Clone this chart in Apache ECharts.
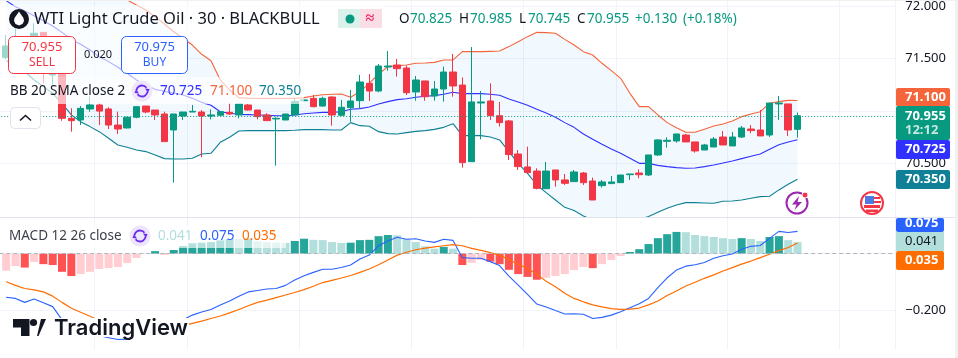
<!DOCTYPE html>
<html><head><meta charset="utf-8">
<style>html,body{margin:0;padding:0;background:#fff}#c{width:958px;height:358px}</style>
<script src="https://cdn.jsdelivr.net/npm/echarts@6/dist/echarts.min.js"></script>
</head><body><div id="c"></div>
<script>
const opens=[71.511,71.597,71.581,71.660,71.749,71.343,71.422,70.930,70.914,71.019,71.057,71.019,70.866,70.838,70.940,71.047,71.009,70.971,70.819,70.952,
70.990,70.990,70.952,70.959,70.987,70.962,71.057,71.009,70.962,70.924,70.914,70.962,71.098,71.120,71.047,71.133,70.959,71.032,71.098,71.263,
71.190,71.419,71.438,71.409,71.181,71.286,71.143,71.209,71.371,71.247,70.517,71.076,71.095,70.955,70.905,70.590,70.467,70.428,70.260,70.438,
70.343,70.327,70.409,70.333,70.289,70.308,70.317,70.393,70.409,70.390,70.581,70.711,70.714,70.771,70.705,70.628,70.657,70.752,70.667,70.752,
70.828,70.819,70.771,71.067,71.067,70.825];
const closes=[71.619,71.676,71.660,71.740,71.422,71.352,70.930,70.908,71.025,71.057,70.999,70.866,70.828,70.940,71.041,70.990,70.962,70.708,70.971,70.990,
70.997,70.952,70.962,70.993,70.971,71.067,71.009,70.946,70.908,70.930,70.971,71.089,71.105,71.041,71.120,70.962,71.035,71.095,71.276,71.190,
71.428,71.428,71.403,71.174,71.295,71.136,71.209,71.371,71.238,70.508,71.086,71.086,70.955,70.889,70.584,70.470,70.413,70.263,70.428,70.343,
70.311,70.419,70.317,70.152,70.324,70.324,70.390,70.400,70.393,70.581,70.724,70.721,70.781,70.705,70.619,70.676,70.733,70.676,70.752,70.838,
70.813,70.762,71.076,71.076,70.819,70.955];
const lows=[71.492,71.581,71.549,71.613,71.263,71.254,70.907,70.803,70.866,70.993,70.866,70.828,70.781,70.835,70.930,70.978,70.914,70.708,70.317,70.914,
70.990,70.559,70.920,70.952,70.962,70.930,71.003,70.920,70.908,70.479,70.914,70.962,71.089,71.035,71.041,70.860,70.952,70.898,71.025,71.095,
71.178,71.384,71.327,71.152,71.098,71.098,71.098,71.089,71.136,70.460,70.517,70.730,70.914,70.851,70.533,70.438,70.406,70.254,70.260,70.279,
70.295,70.324,70.295,70.152,70.270,70.308,70.314,70.343,70.359,70.381,70.571,70.651,70.698,70.705,70.603,70.628,70.657,70.676,70.667,70.743,
70.787,70.762,70.752,70.914,70.762,70.745];
const highs=[71.724,71.787,71.692,71.835,71.749,71.422,71.422,71.025,71.047,71.136,71.073,71.035,70.993,70.946,71.047,71.047,71.009,70.993,70.971,70.990,
71.057,71.009,71.016,70.993,71.073,71.067,71.067,71.009,70.978,70.940,70.971,71.120,71.120,71.152,71.136,71.140,71.105,71.200,71.343,71.352,
71.447,71.571,71.495,71.432,71.333,71.286,71.286,71.422,71.543,71.320,71.609,71.190,71.263,71.086,70.914,70.628,70.660,70.454,70.514,70.438,
70.400,70.438,70.419,70.365,70.343,70.381,70.390,70.400,70.444,70.581,70.730,70.749,70.781,70.781,70.705,70.686,70.752,70.809,70.800,70.857,
70.866,71.009,71.076,71.143,71.067,70.985];
const bbBasis=[72.051,71.993,71.952,71.908,71.860,71.809,71.749,71.682,71.635,71.581,71.517,71.470,71.416,71.359,71.295,71.247,71.206,71.187,71.171,71.152,
71.120,71.082,71.054,70.993,70.978,70.968,70.965,70.962,70.959,70.955,70.955,70.962,70.974,70.981,70.987,70.987,70.993,71.016,71.022,71.038,
71.067,71.089,71.108,71.117,71.130,71.140,71.146,71.159,71.178,71.165,71.165,71.165,71.159,71.149,71.114,71.086,71.054,71.016,70.981,70.940,
70.889,70.844,70.781,70.730,70.682,70.638,70.597,70.549,70.501,70.501,70.482,70.470,70.460,70.454,70.457,70.470,70.486,70.505,70.524,70.546,
70.568,70.590,70.635,70.679,70.705,70.725];
const bbUpper=[72.406,72.374,72.359,72.343,72.327,72.311,72.279,72.247,72.216,72.184,72.152,72.120,72.089,72.057,72.009,71.962,71.898,71.828,71.755,71.692,
71.628,71.540,71.479,71.295,71.200,71.127,71.120,71.120,71.120,71.120,71.120,71.120,71.127,71.143,71.155,71.159,71.162,71.130,71.184,71.263,
71.352,71.422,71.432,71.438,71.454,71.457,71.463,71.486,71.486,71.565,71.565,71.565,71.568,71.571,71.613,71.660,71.708,71.749,71.746,71.740,
71.682,71.628,71.565,71.533,71.454,71.384,71.311,71.168,71.041,71.041,70.962,70.889,70.841,70.797,70.797,70.825,70.857,70.876,70.905,70.946,
70.971,70.993,71.073,71.089,71.101,71.100];
const bbLower=[71.479,71.438,71.374,71.295,71.232,71.168,71.073,70.962,70.898,70.851,70.803,70.740,70.676,70.654,70.628,70.613,70.581,70.546,70.543,70.543,
70.549,70.590,70.597,70.701,70.749,70.809,70.813,70.813,70.813,70.813,70.813,70.816,70.822,70.822,70.822,70.819,70.819,70.889,70.860,70.854,
70.803,70.784,70.781,70.794,70.806,70.813,70.825,70.844,70.879,70.765,70.765,70.765,70.752,70.724,70.613,70.501,70.406,70.295,70.222,70.152,
70.082,70.051,69.999,69.962,69.936,69.924,69.930,69.946,69.968,69.994,70.035,70.073,70.105,70.127,70.127,70.124,70.121,70.140,70.143,70.152,
70.168,70.184,70.187,70.248,70.302,70.350];
const macdHist=[-0.060,-0.044,-0.049,-0.029,-0.037,-0.040,-0.064,-0.079,-0.072,-0.064,-0.054,-0.051,-0.047,-0.033,-0.015,-0.001,0.009,-0.002,0.013,0.027,
0.037,0.039,0.041,0.047,0.052,0.052,0.053,0.044,0.041,0.039,0.038,0.045,0.053,0.049,0.048,0.041,0.038,0.039,0.048,0.049,
0.062,0.066,0.065,0.052,0.041,0.026,0.018,0.024,0.018,-0.040,-0.032,-0.022,-0.028,-0.037,-0.057,-0.072,-0.082,-0.092,-0.085,-0.079,
-0.072,-0.058,-0.047,-0.051,-0.037,-0.022,-0.008,0.006,0.016,0.034,0.055,0.069,0.077,0.076,0.066,0.062,0.059,0.055,0.052,0.055,
0.052,0.045,0.059,0.062,0.048,0.041];
const macdLine=[-0.154,-0.158,-0.172,-0.160,-0.173,-0.187,-0.234,-0.258,-0.270,-0.282,-0.290,-0.297,-0.303,-0.302,-0.287,-0.278,-0.270,-0.258,-0.246,-0.233,
-0.217,-0.206,-0.197,-0.181,-0.167,-0.150,-0.135,-0.130,-0.125,-0.123,-0.112,-0.093,-0.078,-0.066,-0.055,-0.055,-0.049,-0.040,-0.019,-0.005,
0.028,0.045,0.058,0.051,0.053,0.045,0.040,0.051,0.047,-0.014,-0.016,-0.016,-0.028,-0.042,-0.079,-0.111,-0.144,-0.178,-0.188,-0.201,
-0.213,-0.212,-0.214,-0.229,-0.225,-0.217,-0.205,-0.191,-0.177,-0.158,-0.120,-0.085,-0.058,-0.044,-0.039,-0.031,-0.016,-0.007,-0.001,0.016,
0.026,0.029,0.054,0.079,0.075,0.079];
const signalLine=[-0.099,-0.112,-0.123,-0.128,-0.135,-0.150,-0.172,-0.193,-0.207,-0.221,-0.236,-0.244,-0.252,-0.259,-0.266,-0.270,-0.269,-0.266,-0.264,-0.254,
-0.246,-0.238,-0.229,-0.220,-0.209,-0.197,-0.184,-0.172,-0.164,-0.155,-0.146,-0.137,-0.127,-0.115,-0.102,-0.094,-0.086,-0.077,-0.066,-0.054,
-0.039,-0.022,-0.005,0.005,0.014,0.020,0.024,0.028,0.032,0.028,0.019,0.012,0.004,-0.005,-0.021,-0.037,-0.052,-0.073,-0.097,-0.117,
-0.140,-0.158,-0.170,-0.181,-0.188,-0.194,-0.197,-0.196,-0.192,-0.181,-0.167,-0.148,-0.132,-0.114,-0.101,-0.087,-0.075,-0.061,-0.049,-0.037,
-0.026,-0.014,-0.002,0.011,0.022,0.038];
const priceTicks=[70.5,71,71.5,72];
const macdTicks=[-0.2,0];
const gridCandles=[10,20,32,44,56,66,78,90];

const FONT='"Noto Sans"';
const N=97;            // one leading blank bar + 86 bars + right-hand margin
const cats=Array.from({length:N},(_,i)=>String(i));
const pad=a=>[null,...a,...Array(N-1-a.length).fill(null)];
const GREEN='#089981',RED='#f23645',BLUE='#2962ff',GRID='#f0f3fa';
const candle=opens.map((o,i)=>[o,closes[i],lows[i],highs[i]]);
const bandBase=bbLower, bandDiff=bbUpper.map((u,i)=>u-bbLower[i]);
const histColor=(i)=>{const v=macdHist[i],p=i?macdHist[i-1]:null;
  if(v>=0) return (p!==null&&v>p)?'#26a69a':'#b2dfdb';
  return (p!==null&&v<p)?'#ff5252':'#ffcdd2';};
const hist=macdHist.map((v,i)=>({value:v,itemStyle:{color:histColor(i)}}));
const line=(name,data,color,width,x)=>({name,type:'line',data:pad(data),xAxisIndex:x||0,yAxisIndex:x||0,
  symbol:'none',showSymbol:false,silent:true,lineStyle:{color,width:width||1},z:3,connectNulls:false});

// graphic helpers
const T=(text,x,y,fill,size,opt={})=>({type:'text',z:110,silent:true,style:{text,x,y,fill,
  font:(opt.weight||'normal')+' '+size+'px '+(opt.family||FONT),align:opt.align||'left',verticalAlign:'middle',
  textAlign:opt.align||'left',textVerticalAlign:'middle'}});
const R=(x,y,w,h,fill,r,stroke,z)=>({type:'rect',z:z||105,silent:true,shape:{x,y,width:w,height:h,r:r||0},style:{fill,stroke:stroke||null,lineWidth:stroke?1:0}});
const C=(cx,cy,r,fill,stroke,lw,z)=>({type:'circle',z:z||106,silent:true,shape:{cx,cy,r},style:{fill,stroke:stroke||null,lineWidth:lw||0}});
const PL=(points,stroke,lw)=>({type:'polyline',z:108,silent:true,shape:{points},style:{fill:null,stroke,lineWidth:lw||1}});
const PG=(points,fill,z)=>({type:'polygon',z:z||108,silent:true,shape:{points},style:{fill}});
const refresh=(cx,cy)=>[C(cx,cy,10.5,'#ece5fb'),
  {type:'arc',z:108,silent:true,shape:{cx,cy,r:5.5,startAngle:Math.PI*1.05,endAngle:Math.PI*1.8},style:{stroke:'#6a2cf0',lineWidth:1.8,fill:'none'}},
  {type:'arc',z:108,silent:true,shape:{cx,cy,r:5.5,startAngle:Math.PI*0.05,endAngle:Math.PI*0.8},style:{stroke:'#6a2cf0',lineWidth:1.8,fill:'none'}},
  PG([[cx+7.5,cy-2],[cx+3,cy-2.5],[cx+6,cy+2]],'#6a2cf0'),PG([[cx-7.5,cy+2],[cx-3,cy+2.5],[cx-6,cy-2]],'#6a2cf0')];
const graphics=[
  R(955,0,3,358,'#f1f1f1',0,null,120),R(0,0,958,1,'#f1f1f1',0,null,120),
  {type:'line',z:104,silent:true,shape:{x1:0,y1:217.5,x2:955,y2:217.5},style:{stroke:'#e0e3eb',lineWidth:1}},
  // translucent legend backdrops
  R(0,5,385,27,'rgba(255,255,255,0.6)'),R(0,32,188,45,'rgba(255,255,255,0.6)'),R(4,77,300,27,'rgba(255,255,255,0.65)'),
  R(4,226,282,22,'rgba(255,255,255,0.65)'),
  // title row
  C(19,19,10,'#131722'),PG([[19,11.5],[21,14.5],[23.5,18],[24,21],[22.5,24],[19,25.5],[15.5,24],[14,21],[14.5,18],[17,14.5]],'#ffffff'),
  T('WTI Light Crude Oil · 30 · BLACKBULL',34,19,'#131722',16.5),
  R(338,9,22,19,'#daf1ec',0),R(360,9,22,19,'#fbdde6',0),
  C(350,19,4.5,GREEN),T('≈',370,18,'#e91e63',16,{align:'center',weight:'bold'}),
  T('O',399,19,'#131722',13.5),T('70.825',410,19,GREEN,13.5),
  T('H',459,19,'#131722',13.5),T('70.985',470,19,GREEN,13.5),
  T('L',519,19,'#131722',13.5),T('70.745',528,19,GREEN,13.5),
  T('C',577,19,'#131722',13.5),T('70.955',587,19,GREEN,13.5),
  T('+0.130',635,19,GREEN,13.5),T('(+0.18%)',683,19,GREEN,13.5),
  // buy/sell
  R(8.5,36.5,67,37,'#fff',5,RED),R(121.5,36.5,66,37,'#fff',5,BLUE),
  T('70.955',42,47.5,RED,13,{align:'center'}),T('SELL',42,62.5,RED,12,{align:'center'}),
  T('70.975',154.5,47.5,BLUE,13,{align:'center'}),T('BUY',154.5,62.5,BLUE,12,{align:'center'}),
  T('0.020',98,55,'#131722',11,{align:'center'}),
  // BB legend
  T('BB 20 SMA close 2',10,91,'#131722',13.5),...refresh(142,91),
  T('70.725',160,91,'#3030ff',13.5),T('71.100',210,91,'#f5643a',13.5),T('70.350',259,91,'#0f8095',13.5),
  R(10.5,107.5,30,21,'#fff',4,'#e0e3eb'),
  PL([[20,120.5],[25.5,115.5],[31,120.5]],'#131722',1.6),
  // MACD legend
  T('MACD 12 26 close',9,236,'#3b3f4a',13.5),...refresh(140,236),
  T('0.041',158,236,'#b2dfdb',13.5),T('0.075',200,236,BLUE,13.5),T('0.035',242,236,'#ff6d00',13.5),
  // price-scale tags
  R(896,88,54,18.5,'#f5643a',2),T('71.100',905,97.5,'#fff',13,{weight:'bold'}),
  R(896,106,54,34,GREEN,2),T('70.955',905,116,'#fff',13,{weight:'bold'}),T('12:12',905,130.5,'#c5e8e0',13,{weight:'bold'}),
  R(896,140,54,19,'#3030ff',2),T('70.725',905,149.5,'#fff',13,{weight:'bold'}),
  R(896,170,54,19,'#0f8095',2),T('70.350',905,179.5,'#fff',13,{weight:'bold'}),
  R(896,218,48,14,BLUE,2),T('0.075',905,223,'#fff',13,{weight:'bold'}),
  R(896,232,48,19,'#b2dfdb',0),T('0.041',905,241.5,'#131722',13),
  R(896,251,48,19,'#ff6d00',2),T('0.035',905,260.5,'#fff',13,{weight:'bold'}),
  // markers
  C(797,203,10.5,'#fff','#9c27b0',2),PG([[799,196],[792,204.5],[796.5,204.5],[794.5,210],[802,202],[797.5,202]],'#9c27b0'),C(805,195,3,'#f23645','#fff',1,107),
  C(872,203,11,'#fff','#f23645',2),
  R(864,205,16,3,'#f23645',0,null,107),R(866,209.5,12,2.5,'#f23645',0,null,107),
  R(865,196,9,8,'#4f7be0',0,null,107),R(874,197,6,2,'#f23645',0,null,107),R(874,201,7,2,'#f23645',0,null,107),
  // logo
  R(12,318,177,19,'#fff'),
  PG([[13,319],[29.5,319],[29.5,336],[21,336],[21,327.5],[13,327.5]],'#131722',111),
  C(33.5,322.5,3.6,'#131722',null,0,111),
  PG([[38,336],[37,336],[41,319],[46,319],[38.5,336]],'#131722',111),
  T('TradingView',54,328,'#131722',22,{weight:'600',family:'Inter'})
];

const chart=echarts.init(document.getElementById('c'),null,{renderer:'canvas'});
chart.setOption({
 animation:false,backgroundColor:'#fff',
 grid:[{left:-7.8,width:903.07,top:0,height:217,outerBoundsMode:'none'},{left:-7.8,width:903.07,top:217,height:133,outerBoundsMode:'none'}],
 xAxis:[0,1].map(g=>({type:'category',gridIndex:g,data:cats,boundaryGap:true,
   axisLine:{show:false},axisLabel:{show:false},axisTick:{show:false,alignWithLabel:true},
   splitLine:{show:true,lineStyle:{color:GRID,width:1},interval:(i)=>gridCandles.includes(i-1)}})),
 yAxis:[
  {type:'value',gridIndex:0,position:'right',min:69.99,max:72.057,scale:true,
   axisLine:{show:false},axisTick:{show:false,customValues:priceTicks},
   axisLabel:{customValues:priceTicks,margin:10,color:'#131722',fontFamily:FONT,fontSize:13,formatter:v=>v.toFixed(3)},
   splitLine:{show:true,lineStyle:{color:GRID,width:1}}},
  {type:'value',gridIndex:1,position:'right',min:-0.3403,max:0.1297,
   axisLine:{show:false},axisTick:{show:false,customValues:macdTicks},
   axisLabel:{customValues:macdTicks,margin:10,color:'#131722',fontFamily:FONT,fontSize:13,formatter:v=>(v<0?'−':'')+Math.abs(v).toFixed(3)},
   splitLine:{show:true,lineStyle:{color:GRID,width:1}}}
 ],
 graphic:{elements:graphics},
 series:[
  {name:'bandBase',type:'line',stack:'bb',data:pad(bandBase),symbol:'none',silent:true,lineStyle:{opacity:0},z:1},
  {name:'band',type:'line',stack:'bb',data:pad(bandDiff),symbol:'none',silent:true,lineStyle:{opacity:0},areaStyle:{color:'rgba(33,150,243,0.06)',opacity:1},z:1},
  line('BB basis',bbBasis,'#3030ff',1.1),
  line('BB upper',bbUpper,'#f5643a',1.1),
  line('BB lower',bbLower,'#0f8095',1.1),
  {name:'candles',type:'candlestick',data:pad(candle).map(c=>c===null?'-':c),barWidth:7,z:4,silent:true,
   itemStyle:{color:GREEN,color0:RED,borderColor:GREEN,borderColor0:RED,borderWidth:1},
   markLine:{silent:true,symbol:'none',label:{show:false},animation:false,
     lineStyle:{color:GREEN,type:[1,2],width:1},data:[{yAxis:closes[closes.length-1]}]}},
  {name:'hist',type:'bar',xAxisIndex:1,yAxisIndex:1,data:pad(hist),barWidth:8,silent:true,z:2,
   markLine:{silent:true,symbol:'none',label:{show:false},animation:false,
     lineStyle:{color:'#b2b5be',type:[4,3],width:1},data:[{yAxis:0}]}},
  line('MACD',macdLine,'#2962ff',1.1,1),
  line('Signal',signalLine,'#ff6d00',1.2,1)
 ]
});
</script></body></html>
